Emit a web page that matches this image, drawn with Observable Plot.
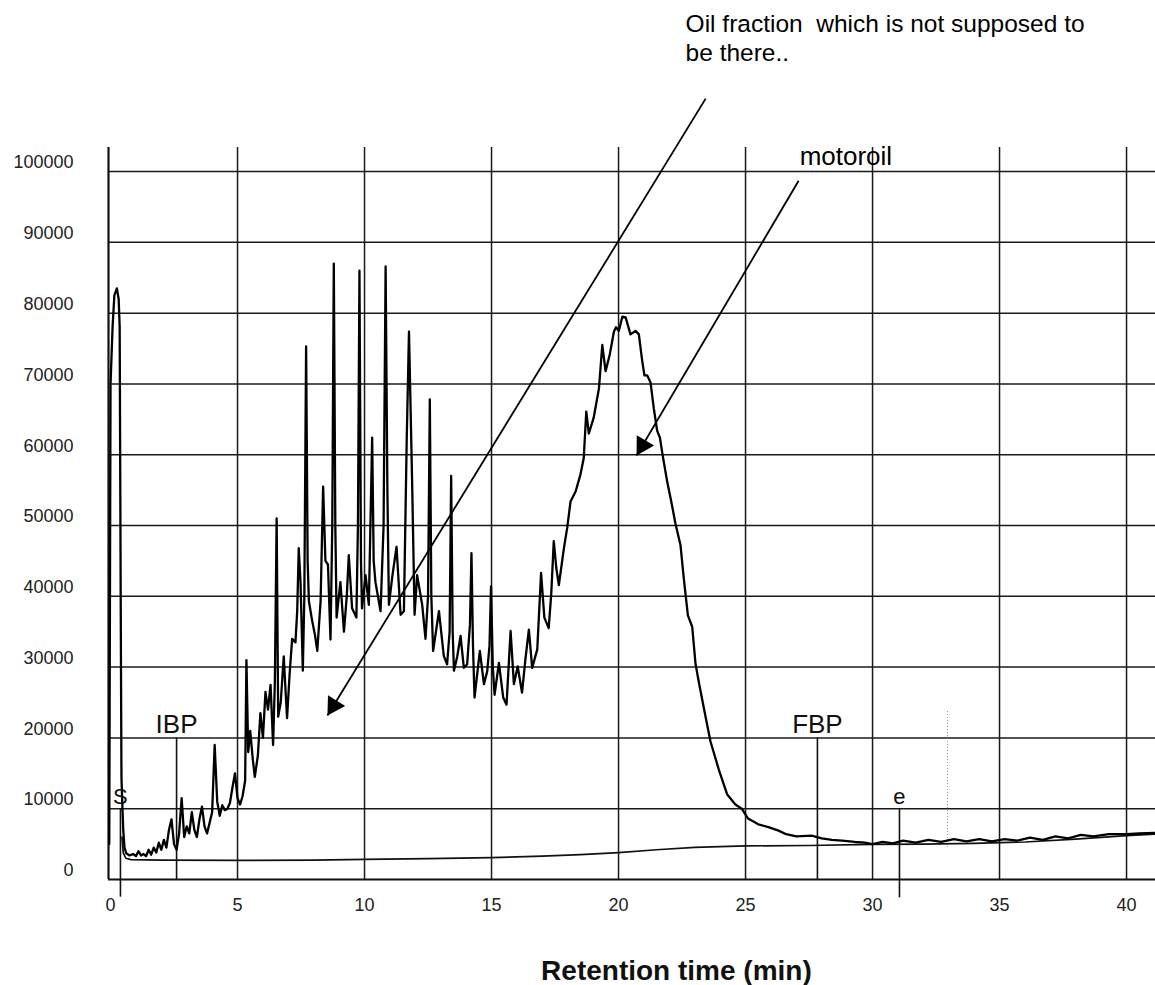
<!DOCTYPE html>
<html><head><meta charset="utf-8">
<script src="https://cdn.jsdelivr.net/npm/d3@7"></script>
<script src="https://cdn.jsdelivr.net/npm/@observablehq/plot@0.6"></script>
<style>html,body{margin:0;padding:0;background:#fff;overflow:hidden}</style>
</head><body><div id="chart"></div><script>
// ---- axes ----
const xTicks = [0, 5, 10, 15, 20, 25, 30, 35, 40];
const yTicks = [0, 10000, 20000, 30000, 40000, 50000, 60000, 70000, 80000, 90000, 100000];
const xGridLines = [5, 10, 15, 20, 25, 30, 35, 40];
const yGridLines = [10000, 20000, 30000, 40000, 50000, 60000, 70000, 80000, 90000, 100000];
const xDomain = [-0.08, 41.14];
const yDomain = [0, 103400];
const xTitle = "Retention time (min)";

// ---- sample chromatogram [time (min), signal] ----
const sampleTrace = [
  [-0.05, 5000], [0.0, 70000], [0.08, 78000], [0.15, 82500], [0.25, 83500], [0.32, 82000], [0.36, 78000],
  [0.4, 40000], [0.43, 14500], [0.46, 11000], [0.5, 7000], [0.55, 4500], [0.62, 3700], [0.75, 3400],
  [0.9, 3600], [1.0, 3300], [1.1, 4000], [1.2, 3400], [1.3, 3600], [1.4, 3300], [1.5, 4200], [1.6, 3500],
  [1.7, 4500], [1.8, 3800], [1.9, 5200], [2.0, 4200], [2.1, 5600], [2.2, 4500], [2.3, 7000], [2.4, 8500],
  [2.5, 5000], [2.6, 4200], [2.7, 6500], [2.8, 11500], [2.9, 6000], [3.0, 7500], [3.1, 6500], [3.2, 9500],
  [3.3, 7000], [3.4, 6000], [3.5, 8500], [3.6, 10300], [3.7, 7500], [3.8, 6500], [3.9, 8000], [4.0, 9500],
  [4.1, 19000], [4.2, 11000], [4.3, 9000], [4.4, 10500], [4.5, 9800], [4.6, 10000], [4.7, 10800],
  [4.8, 13000], [4.9, 15000], [5.0, 11500], [5.1, 10600], [5.2, 11800], [5.3, 14000], [5.35, 31000],
  [5.42, 18000], [5.5, 21000], [5.6, 17000], [5.68, 14500], [5.8, 17500], [5.9, 23500], [6.0, 20000],
  [6.1, 26500], [6.2, 24000], [6.3, 27500], [6.4, 19000], [6.47, 28000], [6.54, 51000], [6.6, 23000],
  [6.7, 25000], [6.82, 31500], [6.9, 26000], [6.95, 22800], [7.05, 29000], [7.15, 34000], [7.28, 33500],
  [7.35, 38000], [7.41, 46800], [7.48, 42000], [7.57, 29500], [7.63, 40000], [7.7, 75300], [7.76, 45000],
  [7.81, 39300], [7.94, 36500], [8.05, 34500], [8.14, 32300], [8.27, 39300], [8.37, 55500], [8.46, 45000],
  [8.56, 44500], [8.66, 33900], [8.73, 50000], [8.79, 87000], [8.85, 50000], [8.9, 37000], [9.05, 42000],
  [9.19, 35000], [9.3, 40000], [9.38, 45800], [9.51, 38300], [9.68, 37000], [9.74, 50000], [9.8, 86000],
  [9.86, 45000], [9.9, 38300], [10.04, 43000], [10.17, 38800], [10.3, 62400], [10.36, 45000],
  [10.43, 42000], [10.63, 37900], [10.75, 50000], [10.83, 86600], [10.9, 55000], [10.96, 38800],
  [11.1, 43000], [11.26, 47000], [11.42, 37400], [11.55, 37900], [11.66, 62000], [11.75, 77400],
  [11.88, 55000], [11.97, 37400], [12.07, 43000], [12.27, 38800], [12.4, 34000], [12.5, 40000],
  [12.57, 67800], [12.63, 40000], [12.7, 32300], [12.93, 37900], [13.12, 31600], [13.25, 30400],
  [13.35, 35000], [13.41, 57000], [13.47, 35000], [13.52, 29500], [13.65, 31500], [13.78, 34400],
  [13.91, 29900], [14.04, 30400], [14.15, 36000], [14.21, 46100], [14.27, 33000], [14.33, 25700],
  [14.54, 32300], [14.7, 27600], [14.83, 29400], [14.92, 33000], [14.98, 41400], [15.05, 30000],
  [15.12, 26100], [15.29, 30600], [15.46, 25700], [15.59, 24700], [15.75, 35100], [15.88, 27600],
  [16.03, 30100], [16.2, 26400], [16.34, 31300], [16.47, 35300], [16.6, 29900], [16.8, 32500],
  [16.95, 43300], [17.08, 37000], [17.25, 35500], [17.35, 40300], [17.45, 47800], [17.55, 44000],
  [17.65, 41600], [17.85, 46800], [17.98, 49700], [18.11, 53400], [18.31, 54800], [18.5, 57200],
  [18.63, 59500], [18.73, 66100], [18.83, 63000], [19.02, 65200], [19.23, 69400], [19.36, 75500],
  [19.49, 71800], [19.65, 74100], [19.82, 77400], [19.9, 78000], [20.01, 77500], [20.15, 79500],
  [20.28, 79400], [20.47, 77000], [20.67, 77500], [20.8, 77000], [20.93, 73300], [21.02, 71200],
  [21.13, 71200], [21.26, 70200], [21.39, 66500], [21.52, 63400], [21.63, 62400], [21.72, 60300],
  [21.92, 56100], [22.07, 53500], [22.24, 50300], [22.44, 47200], [22.57, 42500], [22.73, 37300],
  [22.9, 35700], [23.03, 30500], [23.16, 27900], [23.36, 24200], [23.62, 19500], [23.95, 15500],
  [24.28, 12000], [24.6, 10600], [24.85, 10000], [25.1, 8600], [25.5, 7800], [25.9, 7400], [26.3, 6900],
  [26.6, 6400], [27.0, 6100], [27.6, 6200], [28.0, 5800], [28.4, 5600], [28.8, 5500], [29.3, 5300],
  [29.7, 5200], [30.0, 5000], [30.4, 5300], [30.8, 5100], [31.2, 5500], [31.7, 5200], [32.2, 5600],
  [32.7, 5300], [33.2, 5700], [33.7, 5400], [34.2, 5700], [34.7, 5400], [35.2, 5700], [35.7, 5500],
  [36.2, 5900], [36.7, 5600], [37.2, 6100], [37.7, 5800], [38.2, 6300], [38.7, 6100], [39.3, 6400],
  [40.0, 6400], [40.5, 6500], [41.14, 6600]
];

// ---- blank run (lower trace) ----
const blankTrace = [
  [0.45, 6000], [0.5, 3800], [0.6, 3000], [0.8, 2800], [2, 2750], [5, 2700], [8, 2750], [10, 2850],
  [12.5, 2950], [15, 3100], [17, 3300], [18.5, 3500], [20, 3800], [21.5, 4200], [23, 4550], [25, 4750],
  [27.5, 4800], [30, 4950], [32, 5000], [34, 5100], [36, 5300], [38, 5700], [40, 6200], [41.14, 6400]
];

// ---- event markers ----
const markerNames = ["S", "IBP", "FBP", "e"];
const markerTimes = [0.39, 2.6, 27.83, 31.06];
const markerTops = [10000, 20000, 20000, 10000];
const markerBottoms = [-2500, 0, 0, -2600];
const faintMarkerTime = 32.95;
const faintMarkerRange = [4500, 23900];

// ---- annotations ----
const noteTexts = ["Oil fraction\u00a0 which is not supposed to", "be there..", "motoroil"];
const noteTimes = [22.64, 22.64, 27.13];
const noteSignals = [120800, 116700, 102100];
const arrowFrom = [[23.43, 110300], [27.09, 98700]];
const arrowTo = [[8.54, 23160], [20.71, 59890]];

// ---- build ----
const W = 1155, H = 985, ML = 108, MR = 0, MT = 147, MB = 106;
const sx = d3.scaleLinear(xDomain, [ML, W - MR]);
const sy = d3.scaleLinear(yDomain, [H - MB, MT]);
const headR = 7.5;
const headBack = 2 * Math.sqrt(Math.PI * headR * headR / (3 * Math.sqrt(3)));

const markers = markerNames.map((n, i) => ({name: n, t: markerTimes[i], top: markerTops[i], bottom: markerBottoms[i]}));
const notes = noteTexts.map((s, i) => ({text: s, t: noteTimes[i], v: noteSignals[i], big: s === "motoroil"}));
const arrows = arrowFrom.map((f, i) => {
  const [x1, y1] = f, [x2, y2] = arrowTo[i];
  const px = sx(x2) - sx(x1), py = sy(y2) - sy(y1);
  const len = Math.hypot(px, py), ux = px / len, uy = py / len;
  return {
    x1, y1, x2, y2,
    hx: sx.invert(sx(x2) - ux * headBack),
    hy: sy.invert(sy(y2) - uy * headBack),
    angle: Math.atan2(ux, -uy) * 180 / Math.PI
  };
});

const font = "'Liberation Sans', Arial, Helvetica, sans-serif";
const plot = Plot.plot({
  width: W, height: H,
  marginLeft: ML, marginRight: MR, marginTop: MT, marginBottom: MB,
  x: {domain: xDomain},
  y: {domain: yDomain},
  style: {fontFamily: font, background: "#fff", color: "#111"},
  marks: [
    Plot.ruleY(yGridLines, {stroke: "#1a1a1a", strokeWidth: 1.5}),
    Plot.ruleX(xGridLines, {stroke: "#1a1a1a", strokeWidth: 1.5}),
    Plot.ruleX([xDomain[0]], {stroke: "#111", strokeWidth: 2.2}),
    Plot.ruleY([0], {stroke: "#111", strokeWidth: 2.2}),
    Plot.axisY(yTicks, {tickSize: 0, tickPadding: 35, dy: -9, fontSize: 18, color: "#222",
      tickFormat: d3.format("d"), label: null}),
    Plot.axisX(xTicks, {tickSize: 0, tickPadding: 19, fontSize: 18, color: "#222",
      tickFormat: d3.format("d"), label: null}),
    Plot.text([xTitle], {x: 22.28, frameAnchor: "bottom", lineAnchor: "bottom", dy: 100,
      fontSize: 28, fontWeight: "bold", fill: "#111"}),
    Plot.ruleX([faintMarkerTime], {y1: faintMarkerRange[0], y2: faintMarkerRange[1],
      stroke: "#888", strokeWidth: 1, strokeDasharray: "1,2"}),
    Plot.ruleX(markers, {x: "t", y1: "bottom", y2: "top", stroke: "#111", strokeWidth: 1.6}),
    Plot.line(blankTrace, {x: d => d[0], y: d => d[1], stroke: "#111", strokeWidth: 1.7}),
    Plot.line(sampleTrace, {x: d => d[0], y: d => d[1], stroke: "#000", strokeWidth: 2.3,
      strokeLinejoin: "round"}),
    Plot.text(markers, {x: "t", y: "top", text: "name", lineAnchor: "bottom", dy: -5,
      fontSize: d => d.name.length > 1 ? 26 : 22, fill: "#111"}),
    Plot.text(notes, {x: "t", y: "v", text: "text", textAnchor: "start", lineAnchor: "middle",
      fontSize: d => d.big ? 26 : 24.5, fill: "#000"}),
    Plot.link(arrows, {x1: "x1", y1: "y1", x2: "x2", y2: "y2", stroke: "#000", strokeWidth: 1.8}),
    Plot.dot(arrows, {x: "hx", y: "hy", symbol: "triangle", r: headR, fill: "#000", stroke: "none",
      rotate: "angle"})
  ]
});
document.getElementById("chart").append(plot);
</script></body></html>
